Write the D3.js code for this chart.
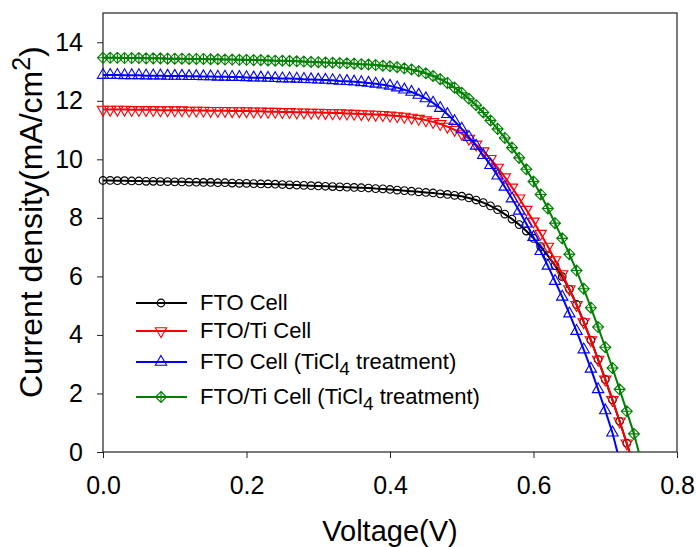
<!doctype html>
<html lang="en">
<head>
    <meta charset="UTF-8">
    <title>J-V curves</title>
    <script src="https://cdn.jsdelivr.net/npm/d3@7"></script>
    <style>
        body { margin: 0; background: #fff; }
        text { font-family: "Liberation Sans", Arial, sans-serif; fill: #000; }
    </style>
</head>
<body>
    <script>
        // measured voltage points (V)
        var voltage = [0.00, 0.01, 0.02, 0.03, 0.04, 0.05, 0.06, 0.07, 0.08, 0.09,
            0.10, 0.11, 0.12, 0.13, 0.14, 0.15, 0.16, 0.17, 0.18, 0.19,
            0.20, 0.21, 0.22, 0.23, 0.24, 0.25, 0.26, 0.27, 0.28, 0.29,
            0.30, 0.31, 0.32, 0.33, 0.34, 0.35, 0.36, 0.37, 0.38, 0.39,
            0.40, 0.41, 0.42, 0.43, 0.44, 0.45, 0.46, 0.47, 0.48, 0.49,
            0.50, 0.51, 0.52, 0.53, 0.54, 0.55, 0.56, 0.57, 0.58, 0.59,
            0.60, 0.61, 0.62, 0.63, 0.64, 0.65, 0.66, 0.67, 0.68, 0.69,
            0.70, 0.71, 0.72, 0.73, 0.74, 0.75];

        // current density (mA/cm2)
        var ftoCell = [9.28, 9.28, 9.27, 9.27, 9.26, 9.26, 9.25, 9.25, 9.24, 9.24,
            9.23, 9.23, 9.22, 9.22, 9.21, 9.21, 9.20, 9.20, 9.19, 9.18,
            9.18, 9.17, 9.16, 9.16, 9.15, 9.14, 9.13, 9.12, 9.11, 9.10,
            9.09, 9.08, 9.07, 9.06, 9.05, 9.04, 9.03, 9.02, 9.00, 8.99,
            8.97, 8.95, 8.93, 8.91, 8.89, 8.87, 8.85, 8.82, 8.80, 8.77,
            8.74, 8.68, 8.61, 8.52, 8.41, 8.28, 8.13, 7.96, 7.77, 7.55,
            7.30, 7.02, 6.71, 6.37, 5.99, 5.56, 5.04, 4.45, 3.82, 3.16,
            2.48, 1.78, 1.05, 0.30, -0.50];

        var ftoTiCell = [11.70, 11.70, 11.70, 11.70, 11.69, 11.69, 11.69, 11.69, 11.68, 11.68,
            11.68, 11.68, 11.67, 11.67, 11.67, 11.66, 11.66, 11.66, 11.65, 11.65,
            11.65, 11.64, 11.64, 11.63, 11.63, 11.62, 11.62, 11.61, 11.61, 11.60,
            11.60, 11.59, 11.58, 11.58, 11.57, 11.56, 11.55, 11.54, 11.53, 11.52,
            11.50, 11.48, 11.46, 11.43, 11.39, 11.34, 11.28, 11.21, 11.12, 11.01,
            10.88, 10.71, 10.51, 10.28, 10.02, 9.72, 9.39, 9.04, 8.67, 8.28,
            7.88, 7.46, 7.02, 6.56, 6.08, 5.57, 5.03, 4.44, 3.82, 3.16,
            2.48, 1.78, 1.05, 0.30, -0.50];

        var ftoTiCl4 = [12.88, 12.88, 12.88, 12.87, 12.87, 12.87, 12.86, 12.86, 12.86, 12.85,
            12.85, 12.85, 12.84, 12.84, 12.83, 12.83, 12.82, 12.82, 12.81, 12.81,
            12.80, 12.79, 12.79, 12.78, 12.77, 12.76, 12.76, 12.75, 12.74, 12.73,
            12.72, 12.71, 12.70, 12.68, 12.67, 12.65, 12.63, 12.61, 12.58, 12.55,
            12.51, 12.45, 12.38, 12.30, 12.20, 12.08, 11.93, 11.75, 11.54, 11.30,
            11.04, 10.76, 10.46, 10.14, 9.80, 9.44, 9.06, 8.66, 8.24, 7.80,
            7.34, 6.86, 6.36, 5.84, 5.30, 4.73, 4.13, 3.50, 2.84, 2.14,
            1.42, 0.66, -0.30];

        var ftoTiTiCl4 = [13.47, 13.47, 13.47, 13.46, 13.46, 13.46, 13.45, 13.45, 13.45, 13.44,
            13.44, 13.44, 13.43, 13.43, 13.43, 13.42, 13.42, 13.41, 13.41, 13.40,
            13.40, 13.39, 13.39, 13.38, 13.37, 13.37, 13.36, 13.35, 13.34, 13.33,
            13.32, 13.31, 13.30, 13.29, 13.28, 13.27, 13.25, 13.24, 13.22, 13.20,
            13.18, 13.15, 13.11, 13.07, 13.01, 12.94, 12.85, 12.74, 12.61, 12.45,
            12.27, 12.07, 11.85, 11.60, 11.33, 11.04, 10.73, 10.40, 10.05, 9.66,
            9.24, 8.80, 8.32, 7.82, 7.30, 6.76, 6.20, 5.58, 4.93, 4.27,
            3.58, 2.87, 2.14, 1.39, 0.62, -0.30];

        var seriesNames = ["FTO Cell", "FTO/Ti Cell", "FTO Cell (TiCl4 treatment)", "FTO/Ti Cell (TiCl4 treatment)"];
        var xTicks = [0, 0.2, 0.4, 0.6, 0.8];
        var yTicks = [0, 2, 4, 6, 8, 10, 12, 14];

        var width = 696,
            height = 547,
            plotLeft = 103,
            plotRight = 677,
            plotTop = 13,
            plotBottom = 452;

        // diamond with a cross in it
        var diamondCross = {
            draw: function(ctx, size) {
                var r = Math.sqrt(size) / 2;
                ctx.moveTo(0, -r);
                ctx.lineTo(r, 0);
                ctx.lineTo(0, r);
                ctx.lineTo(-r, 0);
                ctx.closePath();
                ctx.moveTo(0, -r);
                ctx.lineTo(0, r);
                ctx.moveTo(-r, 0);
                ctx.lineTo(r, 0);
            }
        };

        var series = [
            { name: seriesNames[0], values: ftoCell, color: "#000000", type: d3.symbolCircle, size: 46, rot: 0 },
            { name: seriesNames[1], values: ftoTiCell, color: "#ff0000", type: d3.symbolTriangle, size: 56, rot: 180 },
            { name: seriesNames[2], values: ftoTiCl4, color: "#0000ff", type: d3.symbolTriangle, size: 56, rot: 0 },
            { name: seriesNames[3], values: ftoTiTiCl4, color: "#008000", type: diamondCross, size: 121, rot: 0 }
        ];

        var x = d3.scaleLinear().domain([0, 0.8]).range([plotLeft, plotRight]);
        var y = d3.scaleLinear().domain([0, 15]).range([plotBottom, plotTop]);

        var svg = d3.select("body").append("svg")
                    .attr("width", width)
                    .attr("height", height);

        svg.append("defs").append("clipPath")
            .attr("id", "plotclip")
            .append("rect")
            .attr("x", 0)
            .attr("y", 0)
            .attr("width", plotRight)
            .attr("height", plotBottom);

        // axes
        var xAxis = d3.axisBottom(x).tickValues(xTicks).tickFormat(d3.format(".1f"))
                      .tickSize(6).tickPadding(18);
        var yAxis = d3.axisLeft(y).tickValues(yTicks).tickFormat(d3.format("d"))
                      .tickSize(6).tickPadding(14);

        var gx = svg.append("g")
            .attr("transform", "translate(0," + plotBottom + ")")
            .call(xAxis);
        var gy = svg.append("g")
            .attr("transform", "translate(" + plotLeft + ",0)")
            .call(yAxis);

        [gx, gy].forEach(function(g){
            g.select(".domain").remove();
            g.selectAll("line").attr("stroke", "#222").attr("stroke-width", 1);
            g.selectAll("text")
                .style("font-family", "'Liberation Sans', Arial, sans-serif")
                .style("font-size", "25px")
                .attr("fill", "#000");
        });

        svg.append("rect")
            .attr("x", plotLeft)
            .attr("y", plotTop)
            .attr("width", plotRight - plotLeft)
            .attr("height", plotBottom - plotTop)
            .attr("fill", "none")
            .attr("stroke", "#222")
            .attr("stroke-width", 1.2);

        // curves
        var line = d3.line()
            .x(function(d){ return x(d[0]); })
            .y(function(d){ return y(d[1]); });

        var plot = svg.append("g").attr("clip-path", "url(#plotclip)");

        series.forEach(function(s){
            var pts = s.values.map(function(v, i){ return [voltage[i], v]; });
            var sym = d3.symbol().type(s.type).size(s.size);

            plot.append("path")
                .datum(pts)
                .attr("d", line)
                .attr("fill", "none")
                .attr("stroke", s.color)
                .attr("stroke-width", 2);

            plot.selectAll(null)
                .data(pts)
                .enter()
                .append("path")
                .attr("d", sym)
                .attr("transform", function(d){
                    return "translate(" + x(d[0]) + "," + y(d[1]) + ") rotate(" + s.rot + ")";
                })
                .attr("fill", "none")
                .attr("stroke", s.color)
                .attr("stroke-width", 1.1);
        });

        // legend
        var legendRows = [303, 331, 362, 397];
        var legend = svg.append("g");

        series.forEach(function(s, i){
            var ly = legendRows[i];
            legend.append("line")
                .attr("x1", 136)
                .attr("x2", 187)
                .attr("y1", ly)
                .attr("y2", ly)
                .attr("stroke", s.color)
                .attr("stroke-width", 2);
            legend.append("path")
                .attr("d", d3.symbol().type(s.type).size(s.size)())
                .attr("transform", "translate(161," + ly + ") rotate(" + s.rot + ")")
                .attr("fill", "none")
                .attr("stroke", s.color)
                .attr("stroke-width", 1.1);

            var t = legend.append("text")
                .attr("x", 200)
                .attr("y", ly + 7)
                .style("font-size", "22px");
            var parts = s.name.split("TiCl4");
            t.append("tspan").text(parts[0]);
            if (parts.length > 1) {
                t.append("tspan").text("TiCl");
                t.append("tspan").attr("dy", 6).style("font-size", "19px").text("4");
                t.append("tspan").attr("dy", -6).text(parts[1]);
            }
        });

        // axis titles
        svg.append("text")
            .attr("x", (plotLeft + plotRight) / 2)
            .attr("y", 541)
            .attr("text-anchor", "middle")
            .style("font-size", "29px")
            .text("Voltage(V)");

        var yt = svg.append("text")
            .attr("transform", "translate(42,398) rotate(-90)")
            .attr("text-anchor", "start")
            .style("font-size", "32px");
        yt.append("tspan").text("Current density(mA/cm");
        yt.append("tspan").attr("dy", -12).style("font-size", "25px").text("2");
        yt.append("tspan").attr("dy", 12).text(")");
    </script>
</body>
</html>
